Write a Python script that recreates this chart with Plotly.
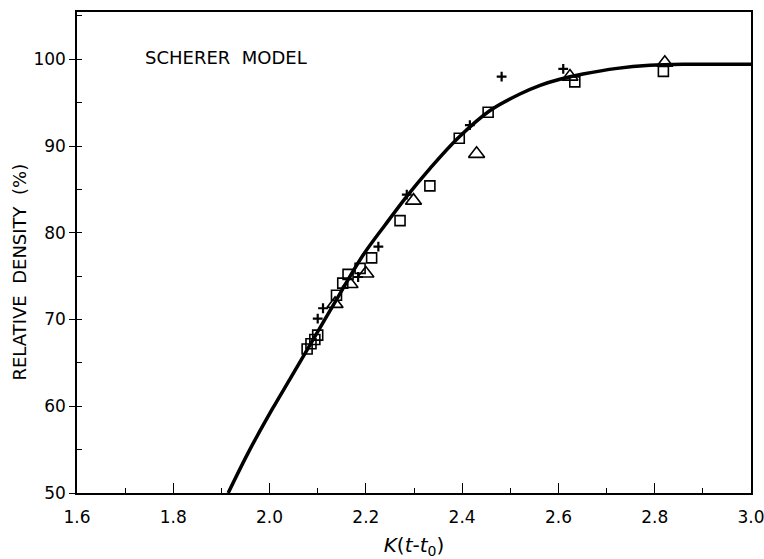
import plotly.graph_objects as go

# Scherer model curve (relative density vs reduced time)
curve_x = [1.914, 1.959, 2.007, 2.042, 2.078, 2.136, 2.194, 2.240, 2.285, 2.333,
           2.391, 2.458, 2.520, 2.562, 2.603, 2.651, 2.722, 2.790, 2.859, 3.000]
curve_y = [50.0, 55.0, 59.8, 63.1, 66.5, 72.0, 77.4, 80.9, 84.2, 87.4,
           90.9, 94.1, 96.0, 97.0, 97.7, 98.3, 98.95, 99.3, 99.42, 99.42]

# Measured densities, three sample series
sq_x = [2.078, 2.086, 2.094, 2.100, 2.139, 2.152, 2.163, 2.188, 2.212, 2.271,
        2.333, 2.394, 2.454, 2.634, 2.818]
sq_y = [66.6, 67.2, 67.7, 68.2, 72.8, 74.2, 75.2, 75.9, 77.1, 81.4,
        85.4, 90.9, 93.9, 97.4, 98.6]

tri_x = [2.136, 2.167, 2.200, 2.299, 2.430, 2.624, 2.821]
tri_y = [71.8, 74.1, 75.3, 83.7, 89.1, 98.0, 99.6]

plus_x = [2.100, 2.111, 2.184, 2.226, 2.285, 2.416, 2.482, 2.610]
plus_y = [70.1, 71.3, 74.9, 78.4, 84.4, 92.4, 98.0, 98.9]

x_ticks = [1.6, 1.8, 2.0, 2.2, 2.4, 2.6, 2.8, 3.0]
y_ticks = [50, 60, 70, 80, 90, 100]

FONT = "DejaVu Sans, Liberation Sans, sans-serif"

fig = go.Figure()

fig.add_trace(go.Scatter(
    x=curve_x, y=curve_y, mode="lines",
    line=dict(color="black", width=3.5, shape="spline", smoothing=1.0),
    hoverinfo="skip",
))
fig.add_trace(go.Scatter(
    x=sq_x, y=sq_y, mode="markers",
    marker=dict(symbol="square-open", size=10, color="black", line=dict(width=1.6)),
))
fig.add_trace(go.Scatter(
    x=tri_x, y=tri_y, mode="markers",
    marker=dict(symbol="triangle-up-open", size=14, color="black", line=dict(width=1.6)),
))
fig.add_trace(go.Scatter(
    x=plus_x, y=plus_y, mode="markers",
    marker=dict(symbol="cross-thin-open", size=7, color="black", line=dict(width=2.2, color="black")),
))

fig.add_annotation(
    x=1.737, y=100.2, xref="x", yref="y", text="SCHERER  MODEL",
    showarrow=False, xanchor="left", yanchor="middle",
    font=dict(family=FONT, size=18, color="black"),
)

# y-axis title, placed beside the tick labels
fig.add_annotation(
    x=-0.085, y=75.5, xref="paper", yref="y", text="RELATIVE  DENSITY  (%)",
    textangle=-90, showarrow=False, xanchor="center", yanchor="middle",
    font=dict(family=FONT, size=18, color="black"),
)

fig.update_layout(
    width=764, height=559,
    margin=dict(l=77, r=13, t=12, b=66),
    paper_bgcolor="white", plot_bgcolor="white",
    showlegend=False,
    font=dict(family=FONT, color="black"),
    xaxis=dict(
        range=[1.6, 3.0], tickvals=x_ticks, ticktext=[f"{v:.1f}" for v in x_ticks],
        ticks="inside", ticklen=10, tickwidth=1.3, tickcolor="black",
        minor=dict(dtick=0.1, ticks="inside", ticklen=5, tickwidth=1.2, tickcolor="black"),
        showline=True, linecolor="black", linewidth=1.5, mirror=True,
        showgrid=False, zeroline=False, automargin=False,
        tickfont=dict(family=FONT, size=17), ticklabelstandoff=8,
        ticklabeloverflow="allow",
        title=dict(text="<i>K</i>(<i>t</i>-<i>t</i><sub>0</sub>)",
                   font=dict(family=FONT, size=20), standoff=12),
    ),
    yaxis=dict(
        range=[50, 105.45], tickvals=y_ticks,
        ticks="outside", ticklen=6, tickwidth=1.3, tickcolor="black",
        minor=dict(dtick=5, ticks="inside", ticklen=5, tickwidth=1.2, tickcolor="black"),
        showline=True, linecolor="black", linewidth=1.5, mirror=True,
        showgrid=False, zeroline=False, automargin=False,
        tickfont=dict(family=FONT, size=17),
    ),
)

fig.write_html("out.html")
